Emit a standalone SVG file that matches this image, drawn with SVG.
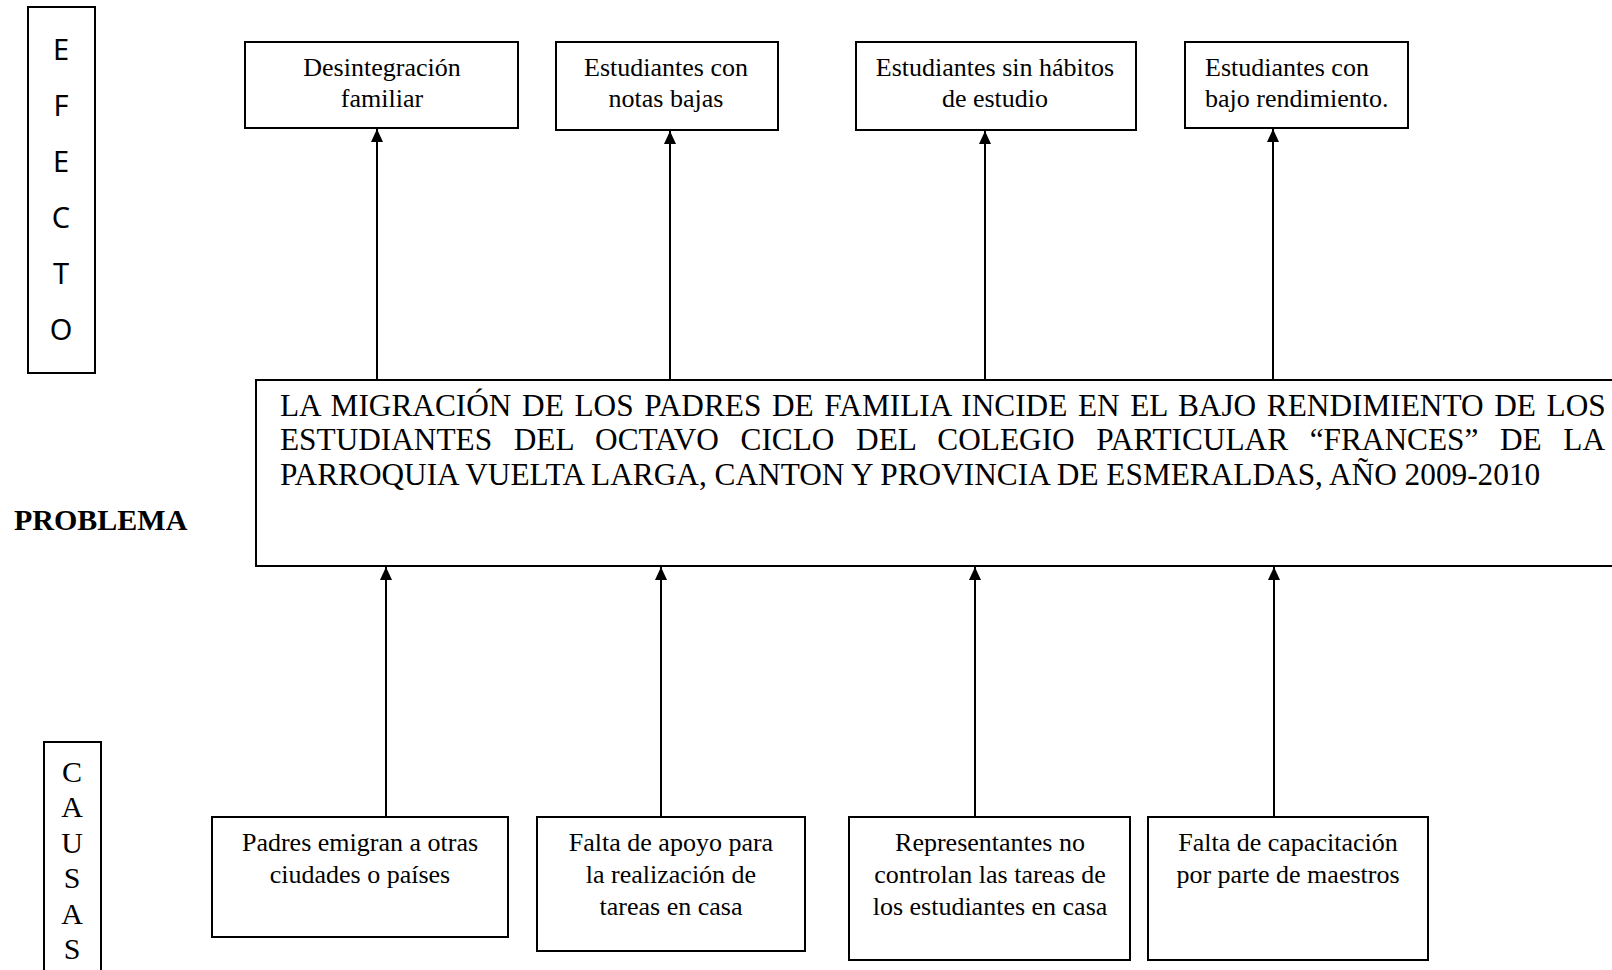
<svg xmlns="http://www.w3.org/2000/svg" width="1612" height="970" viewBox="0 0 1612 970">
<style>
.box{fill:#fff;stroke:#000;stroke-width:2}
.t{font-family:"Liberation Serif","Times New Roman",serif;font-size:26px;fill:#000}
.c{text-anchor:middle}
.p{font-family:"Liberation Serif","Times New Roman",serif;font-size:31.3px;fill:#000}
.side{font-family:"Noto Sans","Open Sans",sans-serif;font-size:29px;fill:#000;text-anchor:middle}
.sideS{font-family:"Liberation Serif","Times New Roman",serif;font-size:30px;fill:#000;text-anchor:middle}
.conn line{stroke:#000;stroke-width:2;marker-end:url(#ah)}
</style>
<defs>
<marker id="ah" markerUnits="userSpaceOnUse" markerWidth="13" markerHeight="12" refX="13" refY="6" orient="auto">
<path d="M0,0 L13,6 L0,12 z" fill="#000"/>
</marker>
</defs>
<rect width="1612" height="970" fill="#fff"/>

<g id="efecto-label">
<rect class="box" x="28" y="7" width="67" height="366"/>
<text class="side" x="61" y="60">E</text>
<text class="side" x="61" y="116">F</text>
<text class="side" x="61" y="172">E</text>
<text class="side" x="61" y="228">C</text>
<text class="side" x="61" y="284">T</text>
<text class="side" x="61" y="340">O</text>
</g>

<g id="causas-label">
<rect class="box" x="44" y="742" width="57" height="240"/>
<text class="sideS" x="72" y="782">C</text>
<text class="sideS" x="72" y="817">A</text>
<text class="sideS" x="72" y="853">U</text>
<text class="sideS" x="72" y="888">S</text>
<text class="sideS" x="72" y="924">A</text>
<text class="sideS" x="72" y="959">S</text>
</g>

<g id="problema-label">
<text x="14" y="530" font-family="Liberation Serif, Times New Roman, serif" font-size="30" font-weight="bold">PROBLEMA</text>
</g>

<g id="effect1">
<rect class="box" x="245" y="42" width="273" height="86"/>
<text class="t c" x="382" y="76">Desintegración</text>
<text class="t c" x="382" y="107">familiar</text>
</g>
<g id="effect2">
<rect class="box" x="556" y="42" width="222" height="88"/>
<text class="t c" x="666" y="76">Estudiantes con</text>
<text class="t c" x="666" y="107">notas bajas</text>
</g>
<g id="effect3">
<rect class="box" x="856" y="42" width="280" height="88"/>
<text class="t c" x="995" y="76">Estudiantes sin hábitos</text>
<text class="t c" x="995" y="107">de estudio</text>
</g>
<g id="effect4">
<rect class="box" x="1185" y="42" width="223" height="86"/>
<text class="t" x="1205" y="76">Estudiantes con</text>
<text class="t" x="1205" y="107">bajo rendimiento.</text>
</g>

<g id="problem">
<rect class="box" x="256" y="380" width="1370" height="186"/>
<text class="p" x="280" y="416" word-spacing="2.8">LA MIGRACIÓN DE LOS PADRES DE FAMILIA INCIDE EN EL BAJO RENDIMIENTO DE LOS</text>
<text class="p" x="280" y="450" word-spacing="13.8">ESTUDIANTES DEL OCTAVO CICLO DEL COLEGIO PARTICULAR “FRANCES” DE LA</text>
<text class="p" x="280" y="485">PARROQUIA VUELTA LARGA, CANTON Y PROVINCIA DE ESMERALDAS, AÑO 2009-2010</text>
</g>

<g id="cause1">
<rect class="box" x="212" y="817" width="296" height="120"/>
<text class="t c" x="360" y="851">Padres emigran a otras</text>
<text class="t c" x="360" y="883">ciudades o países</text>
</g>
<g id="cause2">
<rect class="box" x="537" y="817" width="268" height="134"/>
<text class="t c" x="671" y="851">Falta de apoyo para</text>
<text class="t c" x="671" y="883">la realización de</text>
<text class="t c" x="671" y="915">tareas en casa</text>
</g>
<g id="cause3">
<rect class="box" x="849" y="817" width="281" height="143"/>
<text class="t c" x="990" y="851">Representantes no</text>
<text class="t c" x="990" y="883">controlan las tareas de</text>
<text class="t c" x="990" y="915">los estudiantes en casa</text>
</g>
<g id="cause4">
<rect class="box" x="1148" y="817" width="280" height="143"/>
<text class="t c" x="1288" y="851">Falta de capacitación</text>
<text class="t c" x="1288" y="883">por parte de maestros</text>
</g>

<g id="connectors" class="conn">
<line x1="377" y1="379" x2="377" y2="129"/>
<line x1="670" y1="379" x2="670" y2="131"/>
<line x1="985" y1="379" x2="985" y2="131"/>
<line x1="1273" y1="379" x2="1273" y2="129"/>
<line x1="386" y1="816" x2="386" y2="567"/>
<line x1="661" y1="816" x2="661" y2="567"/>
<line x1="975" y1="816" x2="975" y2="567"/>
<line x1="1274" y1="816" x2="1274" y2="567"/>
</g>
</svg>
